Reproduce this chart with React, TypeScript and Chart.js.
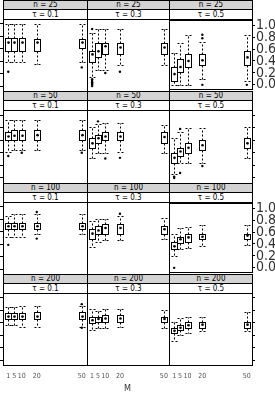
import React, { useEffect, useRef } from 'react';
import { Chart, registerables } from 'chart.js';

Chart.register(...registerables);

// ---------------- data ----------------
const M_VALUES = [1, 5, 10, 20, 50];
const N_VALUES = [25, 50, 100, 200];
const TAU_VALUES = ['0.1', '0.3', '0.5'];
const Y_TICKS = [0, 0.2, 0.4, 0.6, 0.8, 1.0];

// one row per panel (n = 25,50,100,200 × tau = 0.1,0.3,0.5), one column per M
const WHISKER_LOW = [
  [0.38, 0.39, 0.38, 0.35, 0.39],
  [0.15, 0.26, 0.26, 0.34, 0.34],
  [0.0, 0.0, 0.0, 0.10, 0.07],
  [0.41, 0.44, 0.44, 0.44, 0.44],
  [0.32, 0.40, 0.40, 0.42, 0.40],
  [0.06, 0.23, 0.23, 0.24, 0.31],
  [0.52, 0.52, 0.52, 0.56, 0.56],
  [0.36, 0.44, 0.46, 0.47, 0.48],
  [0.20, 0.31, 0.33, 0.36, 0.39],
  [0.57, 0.57, 0.54, 0.54, 0.54],
  [0.49, 0.52, 0.52, 0.54, 0.52],
  [0.31, 0.41, 0.43, 0.46, 0.46],
];
const Q1 = [
  [0.56, 0.56, 0.56, 0.56, 0.61],
  [0.39, 0.46, 0.51, 0.52, 0.51],
  [0.07, 0.21, 0.30, 0.34, 0.34],
  [0.60, 0.61, 0.61, 0.61, 0.61],
  [0.47, 0.56, 0.60, 0.60, 0.56],
  [0.24, 0.35, 0.40, 0.44, 0.47],
  [0.64, 0.64, 0.64, 0.64, 0.64],
  [0.49, 0.56, 0.57, 0.57, 0.57],
  [0.31, 0.41, 0.44, 0.48, 0.49],
  [0.66, 0.66, 0.66, 0.66, 0.66],
  [0.59, 0.62, 0.62, 0.62, 0.62],
  [0.43, 0.48, 0.51, 0.52, 0.52],
];
const MEDIAN = [
  [0.70, 0.70, 0.70, 0.70, 0.70],
  [0.51, 0.56, 0.64, 0.62, 0.62],
  [0.18, 0.30, 0.40, 0.41, 0.46],
  [0.66, 0.67, 0.67, 0.68, 0.68],
  [0.55, 0.63, 0.66, 0.66, 0.65],
  [0.32, 0.42, 0.48, 0.52, 0.55],
  [0.69, 0.69, 0.69, 0.69, 0.69],
  [0.57, 0.62, 0.66, 0.66, 0.64],
  [0.36, 0.48, 0.51, 0.52, 0.54],
  [0.70, 0.70, 0.70, 0.70, 0.70],
  [0.64, 0.66, 0.67, 0.67, 0.66],
  [0.47, 0.52, 0.56, 0.57, 0.57],
];
const Q3 = [
  [0.77, 0.77, 0.77, 0.76, 0.75],
  [0.56, 0.70, 0.70, 0.70, 0.70],
  [0.30, 0.43, 0.51, 0.51, 0.56],
  [0.73, 0.76, 0.76, 0.76, 0.76],
  [0.63, 0.68, 0.73, 0.73, 0.73],
  [0.39, 0.48, 0.56, 0.60, 0.63],
  [0.74, 0.74, 0.74, 0.74, 0.74],
  [0.64, 0.69, 0.72, 0.72, 0.69],
  [0.44, 0.52, 0.56, 0.57, 0.57],
  [0.75, 0.75, 0.75, 0.77, 0.77],
  [0.69, 0.70, 0.72, 0.72, 0.70],
  [0.51, 0.56, 0.61, 0.61, 0.61],
];
const WHISKER_HIGH = [
  [1.0, 1.0, 1.0, 1.0, 1.0],
  [0.85, 0.92, 0.92, 0.92, 0.92],
  [0.54, 0.70, 0.84, 0.72, 0.84],
  [0.92, 0.92, 0.92, 0.92, 0.92],
  [0.81, 0.85, 0.87, 0.87, 0.84],
  [0.63, 0.73, 0.79, 0.79, 0.81],
  [0.85, 0.88, 0.88, 0.88, 0.88],
  [0.77, 0.80, 0.80, 0.85, 0.82],
  [0.57, 0.66, 0.69, 0.72, 0.72],
  [0.85, 0.85, 0.87, 0.87, 0.87],
  [0.82, 0.79, 0.82, 0.82, 0.80],
  [0.62, 0.67, 0.69, 0.70, 0.77],
];
const OUTLIERS: number[][][] = [
  [[0.23], [], [], [], [0.30]],
  [[0.92, 0.11, 0.08, 0.06, 0.04, 0.02, 0.0], [], [0.21], [0.23], []],
  [[], [], [], [0.78, 0.84, 0.0], [0.0]],
  [[0.35], [], [0.40], [], [0.40]],
  [[], [0.90], [0.31], [0.32], []],
  [[0.02, 0.0], [0.78, 0.08], [], [0.19], []],
  [[0.39], [], [], [0.92, 0.49], []],
  [[], [], [], [0.89], []],
  [[0.0], [], [], [], []],
  [[], [], [], [], [0.90, 0.52]],
  [[], [], [], [], []],
  [[], [], [], [], []],
];

// ---------------- layout / style ----------------
function pickFont(cands: string[]): string {
  try {
    const ctx = document.createElement('canvas').getContext('2d') as CanvasRenderingContext2D;
    const sample = 'n = 0.123456789 M';
    ctx.font = '40px monospace';
    const base = ctx.measureText(sample).width;
    for (const f of cands) {
      ctx.font = `40px '${f}', monospace`;
      if (Math.abs(ctx.measureText(sample).width - base) > 0.5) return `'${f}', sans-serif`;
    }
  } catch (e) {
    /* ignore */
  }
  return 'sans-serif';
}
const FONT = pickFont(['Liberation Sans Narrow', 'Arial Narrow', 'DejaVu Sans Condensed', 'Liberation Sans']);
const COL_EDGES = [3, 87, 169, 252];
const ROW_TOPS = [0, 91, 183, 274];
const PANEL_BOTTOMS = [91, 183, 274, 365];
const STRIP_H = 19;
const PAD = 8;
const X_MIN = -2.5;
const X_MAX = 53.5;
const Y_MIN = -0.08;
const Y_MAX = 1.08;
const HALF_BOX = 3;

const boxPlugin = {
  id: 'boxes',
  afterDatasetsDraw(chart: any, _args: any, opts: any) {
    const p = opts.panel;
    const { ctx, chartArea: a } = chart;
    const x = chart.scales.x;
    const y = chart.scales.y;
    ctx.save();
    ctx.strokeStyle = '#000';
    ctx.fillStyle = '#000';
    ctx.lineWidth = 1;
    const line = (x0: number, y0: number, x1: number, y1: number) => {
      ctx.beginPath();
      ctx.moveTo(x0, y0);
      ctx.lineTo(x1, y1);
      ctx.stroke();
    };
    M_VALUES.forEach((m, i) => {
      const c = Math.round(x.getPixelForValue(m)) + 0.5;
      const yLo = Math.round(y.getPixelForValue(WHISKER_LOW[p][i])) + 0.5;
      const yQ1 = Math.round(y.getPixelForValue(Q1[p][i])) + 0.5;
      const yMed = y.getPixelForValue(MEDIAN[p][i]);
      const yQ3 = Math.round(y.getPixelForValue(Q3[p][i])) + 0.5;
      const yHi = Math.round(y.getPixelForValue(WHISKER_HIGH[p][i])) + 0.5;
      ctx.setLineDash([2, 2]);
      line(c, yQ3, c, yHi);
      line(c, yQ1, c, yLo);
      line(c - HALF_BOX, yHi, c + HALF_BOX, yHi);
      line(c - HALF_BOX, yLo, c + HALF_BOX, yLo);
      ctx.setLineDash([]);
      ctx.clearRect(c - HALF_BOX + 0.5, yQ3 + 0.5, 2 * HALF_BOX - 1, yQ1 - yQ3 - 1);
      ctx.strokeRect(c - HALF_BOX, yQ3, 2 * HALF_BOX, yQ1 - yQ3);
      ctx.beginPath();
      ctx.arc(c, yMed, 1.3, 0, Math.PI * 2);
      ctx.fill();
    });
    ctx.strokeRect(Math.round(a.left) + 0.5, Math.round(a.top) + 0.5, Math.round(a.width), Math.round(a.height));
    ctx.restore();
  },
};

function Panel({ row, col }: { row: number; col: number }) {
  const ref = useRef<HTMLCanvasElement>(null);
  const px0 = COL_EDGES[col];
  const px1 = COL_EDGES[col + 1];
  const py0 = ROW_TOPS[row] + STRIP_H;
  const py1 = PANEL_BOTTOMS[row];
  const leftAxis = col === 0 ? 3 : 0;
  const rightAxis = col === 2 ? 23 : 0;
  const bottomAxis = row === 3 ? 18 : 0;
  const left = px0 - PAD - leftAxis;
  const top = py0 - PAD;
  const w = px1 - px0 + 2 * PAD + leftAxis + rightAxis;
  const h = py1 - py0 + 2 * PAD + bottomAxis;
  const p = row * 3 + col;

  useEffect(() => {
    const points: { x: number; y: number }[] = [];
    M_VALUES.forEach((m, i) => OUTLIERS[p][i].forEach((v) => points.push({ x: m, y: v })));
    const showYLabels = col === 2 && (row === 0 || row === 2);
    const chart = new Chart(ref.current as HTMLCanvasElement, {
      type: 'scatter',
      data: {
        datasets: [
          {
            data: points,
            pointRadius: 1.2,
            pointBackgroundColor: '#000',
            pointBorderWidth: 0,
            pointHoverRadius: 1.2,
          },
        ],
      },
      options: {
        responsive: false,
        animation: false,
        devicePixelRatio: 1,
        events: [],
        layout: { padding: { left: PAD, right: PAD, top: PAD, bottom: PAD } },
        plugins: {
          legend: { display: false },
          tooltip: { enabled: false },
          boxes: { panel: p },
        } as any,
        scales: {
          x: {
            type: 'linear',
            min: X_MIN,
            max: X_MAX,
            display: row === 3,
            position: 'bottom',
            afterBuildTicks: (s: any) => {
              s.ticks = M_VALUES.map((v) => ({ value: v }));
            },
            grid: { display: false, drawTicks: false },
            border: { display: false },
            ticks: {
              padding: 7,
              autoSkip: false,
              maxRotation: 0,
              color: '#555',
              font: { family: FONT, size: 7 },
              callback: (v: any) => String(v),
            },
            afterFit: (s: any) => {
              s.height = bottomAxis;
            },
          },
          y: {
            type: 'linear',
            min: Y_MIN,
            max: Y_MAX,
            display: col !== 1,
            position: col === 2 ? 'right' : 'left',
            afterBuildTicks: (s: any) => {
              s.ticks = Y_TICKS.map((v) => ({ value: v }));
            },
            grid: { drawOnChartArea: false, drawTicks: true, tickLength: 3, color: '#000' },
            border: { display: false },
            ticks: {
              display: showYLabels,
              autoSkip: false,
              padding: 1,
              color: '#333',
              font: { family: FONT, size: 14 },
              callback: (v: any) => Number(v).toFixed(1),
            },
            afterFit: (s: any) => {
              s.width = col === 2 ? rightAxis : leftAxis;
            },
          },
        },
      } as any,
      plugins: [boxPlugin as any],
    });
    return () => chart.destroy();
  }, []);

  return (
    <canvas
      ref={ref}
      width={w}
      height={h}
      style={{ position: 'absolute', left, top, width: w, height: h }}
    />
  );
}

function Strip({ row, col }: { row: number; col: number }) {
  const x0 = COL_EDGES[col];
  const x1 = COL_EDGES[col + 1];
  const t = ROW_TOPS[row];
  const base: React.CSSProperties = {
    position: 'absolute',
    left: x0,
    width: x1 - x0 + 1,
    boxSizing: 'border-box',
    border: '1px solid #000',
    fontFamily: FONT,
    fontSize: 8,
    color: '#000',
    textAlign: 'center',
    display: 'flex',
    alignItems: 'center',
    justifyContent: 'center',
    lineHeight: 1,
  };
  return (
    <>
      <div style={{ ...base, top: t, height: 10, background: '#d3d3d3' }}>n = {N_VALUES[row]}</div>
      <div style={{ ...base, top: t + 9, height: 11, background: '#fff' }}>τ = {TAU_VALUES[col]}</div>
    </>
  );
}

export default function App() {
  const cells: JSX.Element[] = [];
  for (let r = 0; r < 4; r++) {
    for (let c = 0; c < 3; c++) {
      cells.push(<Strip key={`s${r}${c}`} row={r} col={c} />);
    }
  }
  for (let r = 0; r < 4; r++) {
    for (let c = 0; c < 3; c++) {
      cells.push(<Panel key={`p${r}${c}`} row={r} col={c} />);
    }
  }
  return (
    <div
      style={{
        position: 'fixed',
        left: 0,
        top: 0,
        width: 275,
        height: 393,
        overflow: 'hidden',
        background: '#fff',
      }}
    >
      {cells}
      <div
        style={{
          position: 'absolute',
          left: 0,
          width: 255,
          top: 383,
          textAlign: 'center',
          fontFamily: FONT,
          fontSize: 9,
          color: '#333',
        }}
      >
        M
      </div>
    </div>
  );
}
